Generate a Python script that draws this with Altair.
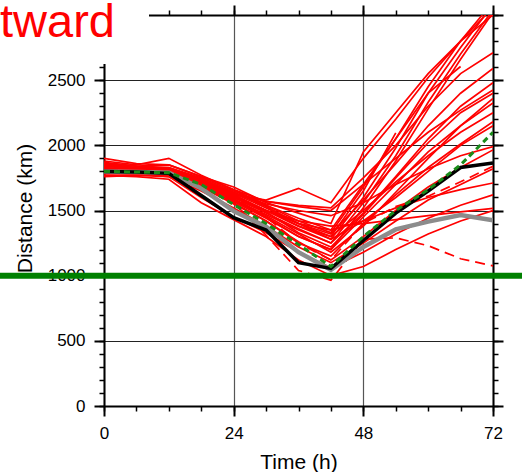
import altair as alt
import pandas as pd

# ---------------- data ----------------
hours = [0, 6, 12, 18, 24, 30, 36, 42, 48, 54, 60, 66, 72]

red_members = {
    "s1":  [1860, 1840, 1830, 1740, 1620, 1500, 1380, 1280, 1600, 1980, 2400, 2750, 3080],
    "s2":  [1830, 1810, 1800, 1720, 1600, 1480, 1360, 1250, 1560, 1920, 2330, 2700, 3040],
    "s3":  [1880, 1850, 1900, 1770, 1660, 1540, 1420, 1330, 1680, 2050, 2450, 2800, 3100],
    "s4":  [1800, 1790, 1790, 1700, 1580, 1450, 1300, 1200, 1520, 1880, 2280, 2660, 3020],
    "s5":  [1790, 1800, 1810, 1730, 1630, 1570, 1540, 1520, 1750, 2000, 2300, 2550, 2710],
    "s6":  [1850, 1820, 1820, 1740, 1640, 1530, 1400, 1320, 1580, 1860, 2150, 2400, 2590],
    "s7":  [1820, 1800, 1790, 1700, 1580, 1470, 1350, 1250, 1480, 1760, 2050, 2300, 2480],
    "s8":  [1870, 1840, 1850, 1760, 1660, 1570, 1530, 1500, 1700, 1900, 2100, 2270, 2425],
    "s9":  [1810, 1790, 1780, 1690, 1570, 1440, 1300, 1200, 1450, 1700, 1950, 2150, 2325],
    "s10": [1840, 1820, 1810, 1730, 1620, 1500, 1380, 1300, 1500, 1720, 1920, 2100, 2250],
    "s11": [1780, 1780, 1770, 1680, 1550, 1420, 1250, 1150, 1400, 1620, 1830, 2010, 2182],
    "s12": [1860, 1830, 1830, 1750, 1650, 1550, 1500, 1460, 1560, 1700, 1820, 1920, 1990],
    "s13": [1800, 1790, 1780, 1690, 1560, 1420, 1260, 1120, 1300, 1500, 1680, 1830, 1965],
    "s14": [1830, 1810, 1800, 1710, 1600, 1500, 1400, 1350, 1420, 1520, 1600, 1660, 1711],
    "s15": [1790, 1780, 1760, 1600, 1450, 1330, 1180, 1060, 1180, 1320, 1440, 1540, 1620],
    "s16": [1820, 1800, 1790, 1710, 1600, 1500, 1420, 1380, 1400, 1430, 1460, 1490, 1517],
    "s17": [1770, 1760, 1740, 1560, 1430, 1300, 1120, 1000, 1070, 1200, 1320, 1420, 1500],
    "s18": [1850, 1830, 1820, 1740, 1640, 1540, 1440, 1350, 1700, 2050, 2400, 2605, None],
    "s19": [1810, 1800, 1800, 1720, 1610, 1500, 1400, 1300, 1650, 2095, None, None, None],
    "s20": [1800, 1800, 1790, 1720, 1620, 1580, 1670, 1560, 1900, 2200, 2520, 2800, 3060],
    "s21": [1820, 1810, 1800, 1720, 1610, 1490, 1330, 1220, 1470, 1750, 2020, 2250, 2400],
    "s22": [1840, 1820, 1810, 1730, 1630, 1520, 1400, 1280, 1420, 1600, 1800, 2000, 2150],
    "s23": [1790, 1790, 1780, 1700, 1590, 1460, 1320, 1180, 1380, 1640, 1900, 2150, 2360],
    "s24": [1900, 1860, 1850, 1760, 1680, 1560, 1480, 1400, 1950, 2250, 2550, 2800, 3000],
    "s25": [1760, 1770, 1760, 1650, 1520, 1380, 1220, 1100, 1250, 1420, 1580, 1700, 1820],
}

red_dashed_members = {
    "d1": [1800, 1800, 1790, 1690, 1560, 1310, 1040, 965, 1280, 1290, 1230, 1130, 1075],
    "d2": [1820, 1810, 1800, 1720, 1600, 1450, 1250, 1120, 1400, 1530, 1610, 1720, 1840],
}

gray_track = [1800, 1795, 1790, 1670, 1495, 1375, 1180, 1045, 1220, 1355, 1415, 1465, 1425]
black_track = [1800, 1795, 1785, 1615, 1445, 1350, 1100, 1055, 1270, 1480, 1650, 1830, 1865]
green_track = [1800, 1795, 1790, 1700, 1545, 1400, 1240, 1070, 1300, 1500, 1660, 1850, 2100]
threshold = [1000]

major_hours = [0, 24, 48, 72]
major_dist = [0, 500, 1000, 1500, 2000, 2500]


def long_table(members):
    rows = []
    for name, vals in members.items():
        for h, v in zip(hours, vals):
            if v is not None:
                rows.append({"member": name, "hour": h, "dist": v})
    return pd.DataFrame(rows)


red_df = long_table(red_members)
dashed_df = long_table(red_dashed_members)
gray_df = pd.DataFrame({"hour": hours, "dist": gray_track})
black_df = pd.DataFrame({"hour": hours, "dist": black_track})
green_df = pd.DataFrame({"hour": hours, "dist": green_track})
thr_df = pd.DataFrame({"dist": threshold})

FONT = "Liberation Sans"
W, H = 389, 391
PAD_L, PAD_T = 104, 15

xs = alt.Scale(domain=[0, 72], nice=False, zero=False)
ys = alt.Scale(domain=[0, 3000], nice=False, zero=False)

common_hidden = dict(labels=False, grid=False, title=None, zindex=0)

ax_x_major = alt.Axis(
    orient="bottom", values=major_hours, format="d", tickSize=10, tickWidth=2, tickColor="black",
    domain=True, domainWidth=2, domainColor="black",
    grid=True, gridColor="#555555", gridWidth=1.2,
    labelFont=FONT, labelFontSize=17, labelColor="black", labelPadding=22,
    labelBaseline="alphabetic", labelFlush=False, labelOverlap=False, labelBound=False,
    title="Time (h)", titleFont=FONT, titleFontSize=21, titleFontWeight="normal",
    titleColor="black", titleY=62, titleBaseline="alphabetic", zindex=0,
)
ax_y_major = alt.Axis(
    orient="left", values=major_dist, format="d", tickSize=10, tickWidth=2, tickColor="black",
    domain=True, domainWidth=2, domainColor="black",
    grid=True, gridColor="#222222", gridWidth=1,
    labelFont=FONT, labelFontSize=17, labelColor="black", labelPadding=9,
    labelFlush=False, labelOverlap=False, labelBound=False,
    title="Distance (km)", titleFont=FONT, titleFontSize=21, titleFontWeight="normal",
    titleColor="black", titleX=-73, titleY=193, titleAngle=270,
    titleAlign="center", titleBaseline="alphabetic", zindex=0,
)
ax_x_minor = alt.Axis(orient="bottom", values=list(range(0, 73, 6)), tickSize=5, tickWidth=1.5,
                      tickColor="black", domain=False, **common_hidden)
ax_y_minor = alt.Axis(orient="left", values=list(range(0, 3001, 100)), tickSize=5, tickWidth=1.5,
                      tickColor="black", domain=False, **common_hidden)
ax_x_top = alt.Axis(orient="top", values=major_hours, tickSize=10, tickWidth=2, tickColor="black",
                    domain=True, domainWidth=2, domainColor="black", **common_hidden)
ax_y_right = alt.Axis(orient="right", values=major_dist + [3000], tickSize=10, tickWidth=2,
                      tickColor="black", domain=True, domainWidth=2, domainColor="black",
                      **common_hidden)
ax_x_top_minor = alt.Axis(orient="top", values=list(range(0, 73, 6)), tickSize=5, tickWidth=1.5,
                          tickColor="black", domain=False, **common_hidden)
ax_y_right_minor = alt.Axis(orient="right", values=list(range(0, 3001, 100)), tickSize=5,
                            tickWidth=1.5, tickColor="black", domain=False, **common_hidden)

red = alt.Chart(red_df).mark_line(color="#ff0000", strokeWidth=1.7, clip=True).encode(
    x=alt.X("hour:Q", scale=xs, axis=ax_x_major),
    y=alt.Y("dist:Q", scale=ys, axis=ax_y_major),
    detail="member:N",
)
red_dash = alt.Chart(dashed_df).mark_line(
    color="#ff0000", strokeWidth=1.7, strokeDash=[10, 6], clip=True
).encode(
    x=alt.X("hour:Q", scale=xs, axis=ax_x_minor),
    y=alt.Y("dist:Q", scale=ys, axis=ax_y_minor),
    detail="member:N",
)
gray = alt.Chart(gray_df).mark_line(color="#8c8c8c", strokeWidth=4.5, clip=True).encode(
    x=alt.X("hour:Q", scale=xs, axis=ax_x_top),
    y=alt.Y("dist:Q", scale=ys, axis=ax_y_right),
)
black = alt.Chart(black_df).mark_line(color="black", strokeWidth=3.5, clip=True).encode(
    x=alt.X("hour:Q", scale=xs, axis=ax_x_top_minor),
    y=alt.Y("dist:Q", scale=ys, axis=ax_y_right_minor),
)
green = alt.Chart(green_df).mark_line(
    color="#1a8c1a", strokeWidth=3, strokeDash=[6, 4], clip=True
).encode(
    x=alt.X("hour:Q", scale=xs, axis=None),
    y=alt.Y("dist:Q", scale=ys, axis=None),
)
rule = alt.Chart(thr_df).mark_rule(color="#008000", strokeWidth=6).encode(
    y=alt.Y("dist:Q", scale=ys, axis=None),
    x=alt.value(-PAD_L),
    x2=alt.value(522 - PAD_L),
)
box = alt.Chart(pd.DataFrame({"k": [0]})).mark_rect(color="white", opacity=1).encode(
    x=alt.value(-PAD_L), x2=alt.value(149 - PAD_L),
    y=alt.value(-PAD_T), y2=alt.value(64 - PAD_T),
)
title = alt.Chart(pd.DataFrame({"k": [0]})).mark_text(
    text="tward", color="#ff0000", font=FONT, fontSize=47,
    align="left", baseline="alphabetic",
).encode(x=alt.value(-PAD_L), y=alt.value(37 - PAD_T))

chart = (
    alt.layer(red, red_dash, gray, black, green, rule, box, title)
    .resolve_scale(x="shared", y="shared")
    .resolve_axis(x="independent", y="independent")
    .properties(
        width=W, height=H,
        autosize=alt.AutoSizeParams(type="none"),
        padding={"left": PAD_L, "top": PAD_T, "right": 522 - PAD_L - W, "bottom": 472 - PAD_T - H},
        background="white",
    )
    .configure_view(stroke=None)
)

chart.save("out.html", embed_options={"renderer": "svg", "actions": False})
